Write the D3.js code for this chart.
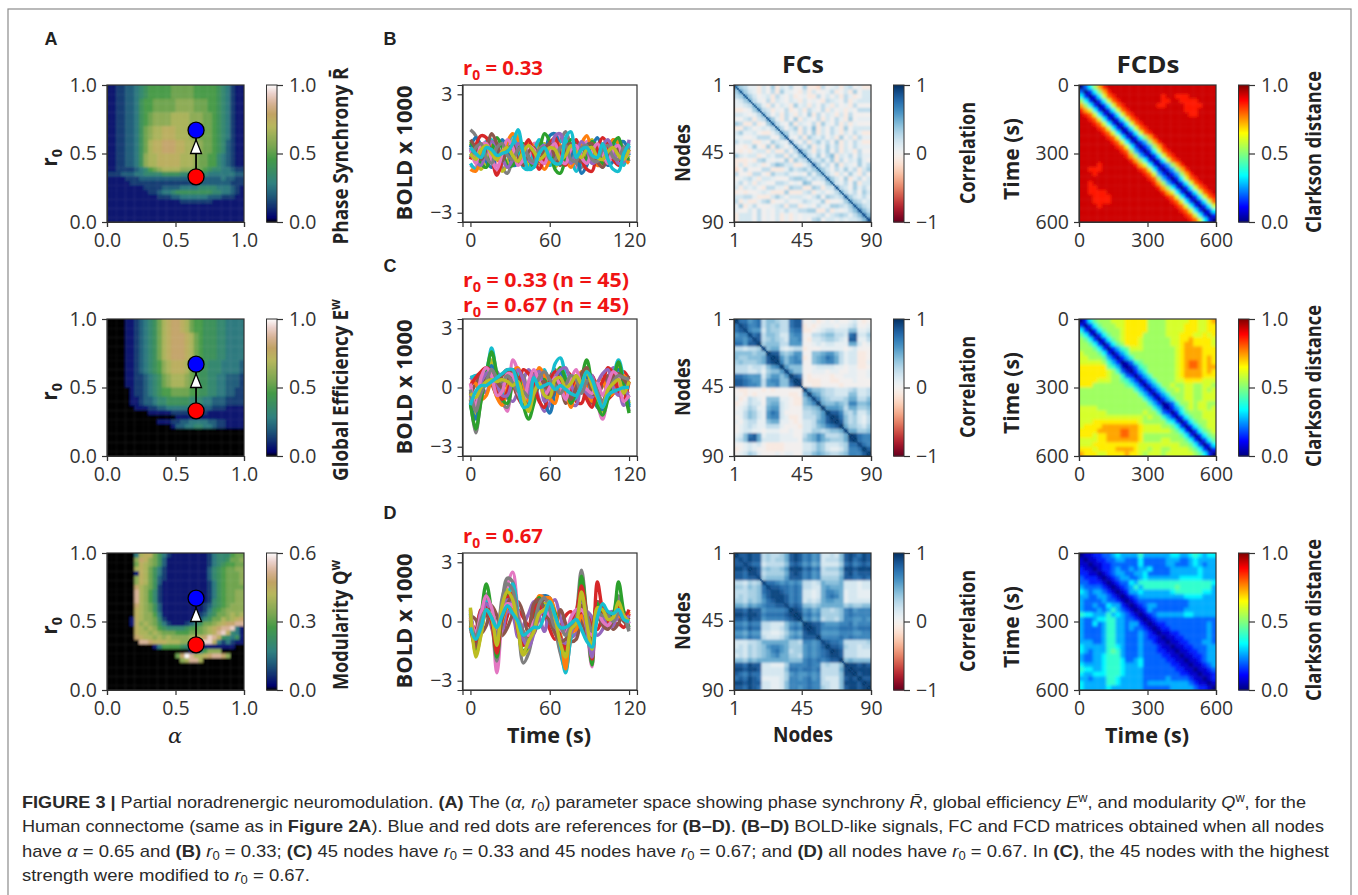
<!DOCTYPE html>
<html>
<head>
<meta charset="utf-8">
<script src="https://cdn.jsdelivr.net/npm/d3@7"></script>
<style>
  body { margin: 0; background: #fff; }
  svg { display: block; }
  text { font-family: "Open Sans", sans-serif; fill: #222; }
  .tick text { font-size: 19.5px; fill: #333; }
  .tick line, .domain { stroke: #333; stroke-width: 1.2; }
</style>
</head>
<body>
<div id="wrapper"></div>
<script>
// ---- tick labels ----
const unitTicks = [0, 0.5, 1];
const modularityTicks = [0, 0.3, 0.6];
const boldTimeTicks = [0, 60, 120];
const boldValueTicks = [-3, 0, 3];
const nodeTicks = [1, 45, 90];
const corrTicks = [-1, 0, 1];
const fcdTicks = [0, 300, 600];

// reference dots of panel A
const dotAlpha = 0.65;
const dotLow = 0.33;
const dotHigh = 0.67;

// ---- panel A, 30 x 30 cells, read by eye, top row is r0 = 1
// hex digit = fraction of the colour bar, "." = black (no value)
const synchrony = [
  "112233456777778888877777654211",
  "112233456777778888877777654211",
  "112233456777778888877777654211",
  "112233467788888999988877654211",
  "112233467788888999988877654211",
  "112233467788888999988877654211",
  "11223346789999aaaa999887654211",
  "11223346789999aaaa999887654211",
  "11223346789999aaaa999887654211",
  "1122334689aabbbaaa998887654211",
  "1122334689aabbbaaa998887654211",
  "1122334689aabbbaaa998887654211",
  "112233468abbcccbbaa99887653211",
  "112233468abbcccbbaa99887653211",
  "112233468abbcccbbaa99887653211",
  "112233469aabbbbbaaa98877543211",
  "112233469aabbbbbaaa98877543211",
  "112233469aabbbbbaaa98877543211",
  "112222345789aaaa99988765544322",
  "222333445555666655555544444433",
  "111122233333333333333333343322",
  "111112222222222222223333333222",
  "111111112222333344445555444321",
  "111111111223445666666665544321",
  "111111111112223344444433322211",
  "111111111111111122222221111111",
  "111111111111111111111111111111",
  "111111111111111111111111111111",
  "111111111111111111111111111111",
  "111111111111111111111111111111"
];
const efficiency = [
  "....11234568abccba877666554444",
  "....11234568abccba877666554444",
  "....11234568abccba877666554444",
  "....11234568abcccba87666554444",
  "....11234568abcccba87666554444",
  "....11234568abcccba87666554444",
  "....11234568abcccba87666554444",
  "....11234568abcccba87666554444",
  "....11234568abcccba87666554444",
  "....112345679abbba876655544443",
  "....112345679abbba876655544443",
  "....112345679abbba876655544443",
  "....1122345689aaa9876655443332",
  "....1122345689aaa9876655443332",
  "....1122345689aaa9876655443332",
  ".....1223456778888776655443322",
  ".....1223456778888776655443322",
  ".....1123345566666555443332222",
  ".....1123345566666555443332222",
  "......111223344444443332221111",
  ".........111112222222211111111",
  "...............111111111111111",
  "...........1112233444433221111",
  "..............1334455443221111",
  "..............................",
  "..............................",
  "..............................",
  "..............................",
  "..............................",
  ".............................."
];
const modularity = [
  "......4abb86421111111124555788",
  "......9cb986311111111124556889",
  "......8ba986311111111124567788",
  "......aba864211111111135678899",
  "......1ba864211111111135678889",
  "......9ba863211111111135678889",
  "......9ba863111111111124678889",
  "......ca9862111111111124678888",
  "......da9752111111111124678899",
  "......da9752111111111124678899",
  "......da9752111111111125678899",
  "......ca9863111111111235678999",
  "......ba9863111111111246789999",
  "......ba9974111111112356889a9a",
  ".....1ba99852111111235688a9abc",
  ".....1b9a986421112356889abccdd",
  "......ba9a976555567789abcdde41",
  "......baa9a98887778889abdeb541",
  "......cbaa9a9a9999aabcedb65461",
  ".......ddcbbbaaa9999aeeb424211",
  "..........147777652111111111..",
  "..................1147999.....",
  "...............8cfdaabcddc9...",
  "................9adda.........",
  "..............................",
  "..............................",
  "..............................",
  "..............................",
  "..............................",
  ".............................."
];

// ---- FC matrices, upper triangle only, each row starts on the diagonal
// hex digit: 3 = correlation 0, f = 1, 0 = -0.25
const fcLow = [
  "a7644253725463372216345256342",
  "a754253627443252533462352735",
  "a75345264352342263535264235",
  "9643625435425343265436245",
  "974263542745253642534263",
  "a6524362352643625342436",
  "963526425372635425263",
  "a74263725436253642734",
  "a6437254362743625243",
  "963572648253642735",
  "9745263725364253642",
  "a43627546352735264",
  "a5362574637253642",
  "964725374625364",
  "b75264736254263",
  "a6473682546364",
  "96574726354743",
  "b7463725437462",
  "9753647462573",
  "96425374263",
  "a7537246352",
  "95463725",
  "a6537464",
  "9646375",
  "b75464",
  "a7645",
  "b865",
  "c86",
  "c8",
  "d"
];
const fcMixed = [
  "fccabc688766cdd334234343345323",
  "edbbc687866cdd232344434456334",
  "ebaa587766bcc223456655588445",
  "ecd688755abb3366788665cd557",
  "ed678765aab3255677654dd446",
  "f788866aaa334545544499534",
  "e89954566233344444345333",
  "fdd878aa33889aa86455223",
  "fea8aba2389acb96455223",
  "fb8abb3389abb96455224",
  "fa888334555544344223",
  "ea88334443443344334",
  "fdc323333233444334",
  "fe322233223334333",
  "f332233332333333",
  "fa8876655567556",
  "fa976655588556",
  "eb87666799668",
  "f988987bb889",
  "faaa9699778",
  "fddb768557",
  "fec867546",
  "fd867546",
  "f977657",
  "e99778",
  "fecbb",
  "fcbb",
  "ecb",
  "fd",
  "f"
];
const fcHigh = [
  "fddedd676679dedbcab55658dedced",
  "ededd676779dedbcab56668decded",
  "edcc566668cdcab9a55557cdbcdc",
  "fed78778aeeecdbc67779eedeee",
  "ed677779dedbcab66668decddd",
  "e78888adddbcab77779ddccdc",
  "eccbababa665698889555455",
  "eddccbcb66559a999555455",
  "eedcbcb55459bba9455444",
  "eedbcb55459bcb9455444",
  "edbcb56569aa99455555",
  "ecdc887899999787788",
  "fedab9a77678bcabbb",
  "febcab77778bcbbbb",
  "fab9a67768bbaaba",
  "feddbaaabbcabbb",
  "fedbbbbcccbccc",
  "edaaaabbbaabb",
  "fbbbbcbcbbbb",
  "edccb666667",
  "fddc766566",
  "fed666555",
  "ed666555",
  "f898888",
  "feeded",
  "feeee",
  "fdee",
  "fdd",
  "fe",
  "f"
];

// ---- FCD matrices, upper triangle, hex digit = Clarkson distance * 15
// a short row keeps its last digit up to the right edge
const fcdLow = [
  "0358bde",
  "0258bde",
  "0259cdeeeeeeeeeedeedddeeeeee",
  "0259cdeeeeeeeeeddeeddddeeee",
  "0259cdeeeeeeeddeeeeddddeee",
  "0259cdeeeeeeeeeeeedddeeee",
  "0259cdeeeeeeeeeeeeddeeee",
  "0259cde",
  "0259cde",
  "0259cde",
  "0259cde",
  "0258bde",
  "0248bde",
  "0248bde",
  "0259cde",
  "0259cde",
  "0259cde",
  "0248bde",
  "0248bde",
  "0248bde",
  "0259cde",
  "0259cde",
  "0259cde",
  "0259cde",
  "0259cd",
  "0259c",
  "0259",
  "025",
  "02",
  "0"
];
const fcdMixed = [
  "02578889 99aaaaa888899999aa99ab".replace(" ", ""),
  "025788899aaaaa88889999aaa99aa",
  "02578889aaaaa88889999aaa99aa",
  "0257889aaaa88888999aaa99a9a",
  "025789aaa988888899aabaaaa9",
  "02578aaa988888899abbaaaa9",
  "0246799988888889abbbbaaa",
  "024688888888889abbbbaaa",
  "02468888888889abbbbaba",
  "0136788888889abccbaba",
  "013678888889abccbabb",
  "02468888889abbbbaba",
  "0246888889abbbbaaa",
  "0246888899aaaa999",
  "0246889889988998",
  "024688989988989",
  "02468889988999",
  "0246889988999",
  "013688989988",
  "02468989989",
  "0257888999",
  "025788999",
  "02578899",
  "0257899",
  "025789",
  "02578",
  "0257",
  "025",
  "02",
  "0"
];
const fcdHigh = [
  "011223345444464444445544565455",
  "01122334433353333344433454444",
  "0112233333353333344333454344",
  "012234334344533334444445444",
  "01234433445333334444445444",
  "0123443345444444455555444",
  "012335466666666666666665",
  "01234646666666766666664",
  "0124454444445666666554",
  "012344444444445555444",
  "01233333333333444444",
  "0123443333333444444",
  "012433333334444444",
  "01234444445544444",
  "0123333333333333",
  "012233333333343",
  "01223333333343",
  "0112233333343",
  "011223333343",
  "01122333443",
  "0112233344",
  "011223344",
  "01122344",
  "0112344",
  "011234",
  "01123",
  "0112",
  "012",
  "01",
  "0"
];

// ---- BOLD traces, x 1000, one value every 4 s
const boldTimes = [0,4,8,12,16,20,24,28,32,36,40,44,48,52,56,60,64,68,72,76,80,84,88,92,96,100,104,108,112,116,120];

const boldLow = [
  [-.6,-.7,.3,.6,.2,-.6,-.5,.4,.7,0,-.6,-.3,.5,.4,-.4,-.6,.3,.9,.2,-.4,-.7,.2,.6,.1,-.5,-.3,.5,.6,-.2,-.5,.2],
  [1.2,.9,-.1,-.5,-.2,.3,-.7,-1,-.2,.7,.3,-.4,-.2,.5,.3,-.3,.2,.6,1.1,.3,-.5,-.7,-.2,.5,.4,-.4,-.5,.2,.7,.2,-.4],
  [.5,-.2,-.8,-.3,.4,.1,-.9,-.5,.6,.9,.1,-.6,-.4,.3,.5,-.1,-.7,-.2,.5,.4,-.3,-.5,.3,.7,0,-.6,-.2,.6,.4,-.4,-.1],
  [-.5,-.8,-.2,.6,.7,-.2,-.5,.5,.9,.2,-.7,-.8,.1,.7,.2,-.6,-.3,.6,.7,-.2,-.9,-.4,.4,.6,-.2,-.7,0,.7,.2,-.6,.4],
  [.3,.8,.4,-.4,-.7,0,.7,.2,-.6,-.5,.3,.6,.1,-.5,-.2,.9,1,.2,-.5,-.1,.6,-1,-.6,.3,.8,.1,-.6,-.4,.5,.6,-.1],
  [-.8,-.9,-.2,.5,.4,-.3,-.4,.6,1,.7,-.1,.6,.3,-.4,-.8,-.3,.6,.4,-.3,-.7,-.1,.5,.9,.1,-.6,-.5,.2,.7,.5,-.2,-.5],
  [.6,.2,-.5,-.7,.1,.8,.3,-.6,-.6,.2,.5,-.2,-.7,.1,1,.6,-.8,-1,-.2,.7,.4,-.4,-.2,.6,.3,-.5,-.3,.5,.8,-.1,-.3],
  [-.3,.4,.9,.8,-.2,-1.1,-.4,.3,0,-.5,.2,.7,-.1,-.8,-.2,.5,.8,-.1,-.6,.3,.7,-.3,-.8,-.9,.2,.8,.4,-.3,-.6,.1,.5],
  [.2,-.4,-.6,.1,.6,.4,-.2,-.7,-.3,.5,.3,-.3,-.5,.2,.4,-.2,.9,1,.1,-.5,0,.6,.2,-.5,-.3,.4,.7,.1,-.5,-.4,.7],
  [.7,.3,-.3,.2,1,.5,-.4,.2,.4,-.3,-.6,.1,.3,-.4,.2,.5,-.2,-.6,.3,.5,-.2,-.4,.4,.5,-.4,-.7,-.2,.3,.2,-.3,.2],
  [.3,-.5,.4,.5,-.3,-.8,0,.7,.3,-.6,-.3,.4,.2,-.3,-.5,.2,.5,-.3,-.5,.2,.4,-.2,-.5,.1,.5,0,-.5,.2,.4,-.3,.1],
  [-.2,.3,.5,-.2,-.5,.3,.5,-.1,-.3,.2,.4,-.2,-.4,.2,.3,-.3,-.3,.3,.4,-.3,-.4,.3,.4,-.3,-.4,.2,.4,-.2,-.3,.3,.2],
  [0,-.3,.2,.4,0,-.3,.1,.3,-.1,-.4,.1,.4,.1,-.3,-.1,.3,.2,-.3,-.1,.4,.1,-.2,.2,.3,-.2,-.3,.1,.3,-.1,-.3,.2],
  [.3,0,-.2,.3,.2,-.1,0,.1,.5,1.2,0,-.8,-.7,0,.3,-.2,-.5,-.5,.8,1.1,-.2,.2,.3,-.1,-.2,.5,-.3,-.8,-.9,0,.5]
];
const boldMixed = [
  [-.7,-1.1,.5,.3,.5,-.3,-.2,.8,.2,-.5,-.9,-.4,.6,.9,.2,-.6,-.3,.3,.8,.6,-.7,-.8,.1,.6,-.1,-.9,-.6,-.3,.2,.8,.4],
  [.4,.6,.2,-.3,.6,.8,.1,-.5,-.7,-.2,.4,.9,.4,-.6,-1.2,-.8,.4,.7,-.2,-.8,-.9,.3,.7,.6,-.7,-.8,.5,1,.2,-.9,-.6],
  [-.4,.2,.6,.6,.2,-.4,.6,.9,.7,-.5,-.6,.2,.7,.6,-.2,.5,.9,.3,-.8,-.5,.3,.6,-.2,-.8,-.4,.1,.6,.4,-.3,.2,.6],
  [-.5,-.8,.3,.8,.7,.1,-.6,-1.2,1.4,.8,-.3,-1,-.5,.2,-.2,.1,.7,.5,-.3,-.2,.4,-.2,.7,.2,-.8,-1.6,-.4,.5,.4,-.3,-.2],
  [-.6,-2.3,-.6,.6,1.2,.2,-.8,-1,.3,.7,.6,-.7,-.3,.7,.3,-.4,.2,.3,.2,-.5,-.3,.6,.8,-.3,-.2,-1,.1,.8,1,.1,-1.2],
  [-.3,-1.5,-.1,.4,1.4,.2,.4,.1,.3,.2,-.8,-1.2,-.2,.3,.4,-.1,.6,1,.5,-.2,.2,.3,.9,0,-.5,-1.2,-.3,.4,1,.3,-.8],
  [.5,.6,.7,.9,2,.6,-.3,-.3,.8,.7,.1,-1.1,-.2,.5,.9,.1,1.2,1.5,.5,-.7,-.5,.3,.6,-.4,-.6,-1.1,.2,.6,1.4,.4,-.9],
  [-.9,-1.6,-.3,.6,1.1,.4,-.4,-.5,.4,.5,-.5,-1,-.7,.9,-.6,-1.3,-.2,.8,.3,-.3,0,.5,.5,-.1,-1,-1.1,-.2,.6,.9,.2,-1],
  [.3,.2,-.6,-.4,.3,-.5,-.9,0,.8,1,.2,-.7,.1,1,.6,-.5,-.8,.1,-.2,-1,.3,.8,-.1,-.7,.3,.4,-.4,-.3,.3,.6,.2],
  [-.8,-2.1,-.7,.7,1.8,.7,-.6,-.8,.2,.5,-.9,-1.6,-.8,.2,.4,-.4,.3,1,.4,-.8,-.2,.5,1.4,.1,-.9,-1.4,-.6,.3,1.3,0,-1.3],
  [.1,.5,.8,1,.8,.1,-.6,-.2,.5,.2,.9,.7,.2,-.7,-1,.3,.8,.2,-.5,-.1,.6,.2,-.6,-1,-.1,.3,1,.7,-.2,-.6,.3],
  [-.4,-.9,.2,.7,.9,.2,-.4,-.4,.4,.9,.4,-.3,.6,.8,-.7,-.4,.5,.9,1,.2,-.4,.1,-.3,-.5,.2,.7,.9,0,-.4,-.1,-.5],
  [-.2,-.7,-.2,.4,.7,.3,0,.4,.9,.4,-.6,-.9,-.4,.1,.3,-.5,-.1,.4,.1,-.6,0,.7,1,-.3,-.4,-.7,.1,.5,.7,.4,.1],
  [.2,-1,.5,1,.6,-.4,-.2,.7,.6,-.3,-.7,.3,.9,.3,-.4,0,.5,.1,-.6,.4,.9,.1,-.1,-.3,.2,-.4,.2,.8,.5,-.7,-.4],
  [-.1,-1.2,-.3,.3,.9,.5,.3,.6,.2,-.2,-.2,-.5,-.3,.5,.8,.4,.1,-.3,.1,.6,.4,-.3,.3,.4,-.2,-.7,-.2,.3,.6,.5,.4],
  [-.3,-.5,0,.3,.4,.3,.4,.3,.1,.3,-.5,-1.2,-.3,.2,-.4,-.5,.4,.5,0,.2,.6,.2,.8,.1,-.5,-1,-.1,.2,.4,-.3,.3],
  [-.9,-.2,.1,.1,.3,.5,.7,.9,.9,0,-1,-.9,.5,0,.1,.2,-.1,.1,-.1,-.3,-.4,.1,.8,.4,-.4,-1,-.4,-.2,-.1,0,0]
];
const boldHigh = [
  [.1,-.4,.6,.4,-.2,-.4,-.5,.3,.9,.6,.2,-.2,.9,1.2,.4,-.4,-.9,-.3,.3,.5,-.4,.4,.5,-.2,-.4,.2,.4,-.2,-.1,-.3,.4],
  [-.5,-.6,.5,.8,-.3,-1.1,-.6,.5,.3,-.8,-.2,.4,1,.3,-.5,.7,1.1,.2,-.5,-.8,-.6,-.2,.5,.2,-.7,-.4,.4,.5,.1,.5,-.1],
  [.3,.1,-.6,-.2,.8,.3,-.7,-.3,.4,1,.4,-.6,-.6,.5,1.2,.2,-.2,.6,-.1,-1,-.9,.1,-.7,-.4,1,.8,.3,-.4,-.1,.4,.1],
  [.6,-1.2,-.4,1.2,.2,-2.6,.2,1.8,2.5,.4,-1.6,-1.4,-.2,.6,.9,1.1,0,-1.5,-2.2,-.3,.2,1.6,-.2,-2.3,.9,.3,-.1,.2,1,.1,.3],
  [.4,-1.5,-.2,1.4,.1,-2,1,2.2,2,-.1,-2.1,-1.6,-.3,1.2,1.3,1,-.3,-1.6,-2.4,-.8,.3,2.6,.3,-1.8,.7,.5,-.2,.3,1.3,.3,-.5],
  [.7,-1.7,-.6,1,.1,-1.5,.9,1.6,1.3,-.3,-1.7,-1.3,-.4,.5,.9,1,.3,-1.1,-1.9,-.5,.1,1.2,-.3,-1.5,.8,.5,.2,.3,.9,.2,0],
  [.4,-1,.3,1,.6,-.5,.4,1.2,1.9,.4,-1.2,-.9,.2,.7,.8,.6,.1,-1.2,-2.6,-.8,0,1.4,.2,-1.2,.2,.1,.1,.4,.8,.3,0],
  [.3,-.7,0,.9,.5,-.9,-.1,.9,1,-.2,-1.1,-1,-.2,.8,1.3,1.2,.3,-.7,-1.2,-.3,.3,1,.2,-1.3,.5,.3,.2,.4,.7,.3,.2],
  [-.2,-1.1,-.3,.6,.3,-1.2,0,.7,.6,-.2,-.5,-.9,.3,1.3,1.2,1.2,.5,-.6,-2.4,-.6,-.4,.3,-.3,-.7,.3,.1,-.3,0,.3,.1,.5],
  [.1,-1.4,.3,1.9,.5,-1.8,.3,1.4,1.2,0,-1.5,-1.2,.1,1.2,.7,.9,.4,-.9,-1.5,-.5,0,2.3,.2,-2.2,.9,.5,0,.3,2,.5,-.3],
  [.2,-1,-.2,.7,0,-1.6,.4,1.2,1.4,-.5,-1.2,-.8,.6,.9,.2,.3,.2,-.8,-1.4,0,.5,1.8,.3,-1.9,2,.6,0,.1,.8,.2,.6],
  [.5,-.9,-.1,.9,.4,-.9,.8,1.1,1,.1,-.9,-1.3,-.6,.3,.5,.2,-.3,-.9,-1.1,-.6,.2,.9,-.4,-1.8,.1,.2,-.3,-.2,.5,.1,.3],
  [-.3,-1.3,-.5,.5,.6,-1,.2,.9,1.3,.1,-.7,-.6,.9,1.1,.6,0,-.6,-1,-.9,-.3,.1,.8,0,-1.1,.3,-.2,-.4,.1,.6,0,-.2],
  [.2,-.6,.4,1.3,.7,-.4,.5,.9,.8,.4,-.6,-.7,0,.4,.6,.3,0,-.4,-.6,.2,.6,.6,.2,-.7,.5,0,-.2,.2,.6,.3,-.1],
  [0,-.8,.1,.6,.2,-.8,1.2,1.9,1.6,.2,-.5,-1,-.3,.9,1.2,.6,-.3,-.3,-.7,-.2,.1,1.3,.4,-.5,.4,.3,.3,0,.4,.2,-.4],
  [.6,-1.8,-.7,.6,.2,-1.2,.8,1.5,1.1,-.4,-1.6,-1,-.5,.4,.6,1,.2,-1.1,-1.8,-.4,-.1,1.5,-.1,-1.4,.7,.6,.1,.2,1,.3,0],
  [-.3,-.9,-.3,.6,.2,-.3,.3,.8,.4,0,-.7,-.5,-.3,-.3,.3,1,.3,-.3,-.3,-.1,.1,-.4,-1,-1.3,.2,.9,.5,.4,.6,.1,0]
];

// ---- layout ----
const rowTops = [85, 319, 553];
const side = 137;

const svg = d3.select("#wrapper").append("svg").attr("width", 1358).attr("height", 895);
const defs = svg.append("defs");
[["softA", 1.2], ["softFC", 0.9], ["softFCD", 1.5]].forEach(f => {
  defs.append("filter").attr("id", f[0]).attr("x", "-5%").attr("y", "-5%").attr("width", "110%").attr("height", "110%")
    .append("feGaussianBlur").attr("stdDeviation", f[1]);
});

svg.append("rect").attr("x", 8).attr("y", 9).attr("width", 1343).attr("height", 900)
  .attr("fill", "none").attr("stroke", "#8c8c8c").attr("stroke-width", 1.2);

// ---- colours ----
const earth = d3.scaleLinear()
  .domain([0, .03, .11, .165, .208, .282, .459, .549, .698, .788, .867, .941, 1])
  .range(["#000000", "#00006e", "#133071", "#1c4d76", "#23627c", "#308080", "#459a48", "#78a652", "#b7b75e", "#c1a365", "#d7b296", "#ecd3ce", "#fdfbfb"]);
const jet = d3.scaleLinear()
  .domain([0, .11, .34, .65, .89, 1])
  .range(["#00007f", "#0000ff", "#00ffff", "#ffff00", "#ff0000", "#7f0000"]);
const rdbu = d3.scaleSequential(d3.interpolateRdBu).domain([-1, 1]);

// ---- helpers ----
function label(parent, x, y, parts, o) {
  o = o || {};
  let size = o.size || 21;
  let t = parent.append("text")
    .attr("text-anchor", o.anchor || "middle")
    .attr("font-size", size)
    .attr("font-weight", o.weight || 700);
  if (o.rotate) t.attr("transform", `translate(${x},${y}) rotate(-90)`);
  else t.attr("x", x).attr("y", y);
  if (o.len) t.attr("textLength", o.len).attr("lengthAdjust", "spacingAndGlyphs");
  if (o.fill) t.style("fill", o.fill);
  let back = 0;
  (Array.isArray(parts) ? parts : [parts]).forEach(p => {
    if (typeof p === "string") {
      let s = t.append("tspan").text(p);
      if (back) s.attr("dy", back);
      back = 0;
      return;
    }
    let shift = p.sub ? 0.25 * size : -0.4 * size;
    t.append("tspan").attr("dy", shift).attr("font-size", size * 0.68).text(p.t);
    back = -shift;
  });
  return t;
}

function decodeFull(rows) {
  let cells = [];
  rows.forEach((row, i) => row.split("").forEach((c, j) => {
    cells.push({ i, j, c });
  }));
  return cells;
}
function decodeUpper(rows) {
  let cells = [];
  rows.forEach((row, i) => {
    for (let j = i; j < rows.length; j++) {
      let c = row[j - i] || row[row.length - 1];
      cells.push({ i, j, c });
      if (j !== i) cells.push({ i: j, j: i, c });
    }
  });
  return cells;
}

function heatPanel(o) {
  let g = svg.append("g").attr("transform", `translate(${o.left},${o.top})`);
  let clipId = "clip" + o.left + "_" + o.top;
  defs.append("clipPath").attr("id", clipId).append("rect").attr("width", side).attr("height", side);
  let n = o.rows.length;
  let band = d3.scaleBand().domain(d3.range(n)).range([0, side]);
  let inner = g.append("g").attr("clip-path", `url(#${clipId})`).append("g").attr("filter", `url(#${o.soft})`);
  // edge cells reach past the clip so the blur does not fade at the frame
  inner.selectAll("rect").data(o.cells).enter().append("rect")
    .attr("x", d => band(d.j) - (d.j === 0 ? 5 : 0))
    .attr("y", d => band(d.i) - (d.i === 0 ? 5 : 0))
    .attr("width", d => band.bandwidth() + 0.4 + (d.j === 0 || d.j === n - 1 ? 5 : 0))
    .attr("height", d => band.bandwidth() + 0.4 + (d.i === 0 || d.i === n - 1 ? 5 : 0))
    .attr("fill", d => d.c === "." ? "#000" : o.color(o.value(d.c)));
  if (o.diagonal) {
    let b90 = d3.scaleBand().domain(d3.range(90)).range([0, side]);
    g.append("g").selectAll("rect").data(d3.range(90)).enter().append("rect")
      .attr("x", d => b90(d)).attr("y", d => b90(d))
      .attr("width", b90.bandwidth() + 0.3).attr("height", b90.bandwidth() + 0.3)
      .attr("fill", rdbu(o.diagonal)).attr("opacity", 0.75);
  }
  return g;
}

function axesFor(g, x, y, xTicks, yTicks, fmtX, fmtY) {
  g.append("g").attr("transform", `translate(0,${side})`)
    .call(d3.axisBottom(x).tickValues(xTicks).tickSize(5).tickPadding(6).tickFormat(fmtX));
  g.append("g")
    .call(d3.axisLeft(y).tickValues(yTicks).tickSize(5).tickPadding(5).tickFormat(fmtY));
  g.append("rect").attr("width", x.range()[1] - x.range()[0]).attr("x", x.range()[0])
    .attr("height", side).attr("fill", "none").attr("stroke", "#333").attr("stroke-width", 1.2);
}

function colorBar(o) {
  let g = svg.append("g").attr("transform", `translate(${o.left},${o.top})`);
  let y = d3.scaleLinear().domain(o.domain).range([side, 0]);
  let steps = d3.range(0, 1, 1 / side);
  g.selectAll("rect").data(steps).enter().append("rect")
    .attr("x", 0).attr("width", 10.5)
    .attr("y", d => y(o.domain[0] + (d + 1 / side) * (o.domain[1] - o.domain[0])))
    .attr("height", 1.6)
    .attr("fill", d => o.color(d));
  g.append("rect").attr("width", 10.5).attr("height", side).attr("fill", "none").attr("stroke", "#333").attr("stroke-width", 1);
  g.append("g").attr("transform", "translate(10.5,0)")
    .call(d3.axisRight(y).tickValues(o.ticks).tickSize(6).tickPadding(6).tickFormat(o.format))
    .select(".domain").remove();
}

const minus = s => s.replace("-", "\u2212");
const fmtUnit = d3.format(".1f");
const fmtInt = d => minus(String(d));

// ---- panel A ----
const paramMaps = [
  { rows: synchrony, ticks: unitTicks, max: 1, title: ["Phase Synchrony R\u0304"], cy: 156, len: 177 },
  { rows: efficiency, ticks: unitTicks, max: 1, title: ["Global Efficiency E", { t: "w" }], cy: 390, len: 182 },
  { rows: modularity, ticks: modularityTicks, max: 0.6, title: ["Modularity Q", { t: "w" }], cy: 625, len: 130 }
];
paramMaps.forEach((m, k) => {
  let g = heatPanel({ left: 107, top: rowTops[k], rows: m.rows, cells: decodeFull(m.rows), color: earth, value: c => parseInt(c, 16) / 15, soft: "softA" });
  let x = d3.scaleLinear().domain([0, 1]).range([0, side]);
  let y = d3.scaleLinear().domain([0, 1]).range([side, 0]);
  axesFor(g, x, y, unitTicks, unitTicks, fmtUnit, fmtUnit);

  g.append("line").attr("x1", x(dotAlpha)).attr("x2", x(dotAlpha)).attr("y1", y(dotLow)).attr("y2", y(dotHigh))
    .attr("stroke", "#000").attr("stroke-width", 1.8);
  g.append("path")
    .attr("d", d3.line().x(d => x(d[0])).y(d => y(d[1]))([[dotAlpha - .04, .5], [dotAlpha + .04, .5], [dotAlpha, .6]]) + "Z")
    .attr("fill", "#fff").attr("stroke", "#000").attr("stroke-width", 1.3);
  g.append("circle").attr("cx", x(dotAlpha)).attr("cy", y(dotLow)).attr("r", 8).attr("fill", "#f00").attr("stroke", "#000").attr("stroke-width", 1.3);
  g.append("circle").attr("cx", x(dotAlpha)).attr("cy", y(dotHigh)).attr("r", 8).attr("fill", "#00f").attr("stroke", "#000").attr("stroke-width", 1.3);

  colorBar({ left: 266.5, top: rowTops[k], domain: [0, m.max], ticks: m.ticks, format: fmtUnit, color: earth });
  label(svg, 57, rowTops[k] + 73, ["r", { t: "0", sub: true }], { rotate: true });
  label(svg, 348, m.cy, m.title, { rotate: true, len: m.len });
});
svg.append("text").attr("x", 175).attr("y", 743).attr("text-anchor", "middle")
  .style("font-family", "'DejaVu Serif', serif").style("font-style", "italic").attr("font-size", 21).text("\u03b1");

// ---- BOLD panels ----
const boldPanels = [boldLow, boldMixed, boldHigh];
boldPanels.forEach((series, k) => {
  let g = svg.append("g").attr("transform", `translate(462.5,${rowTops[k]})`);
  let x = d3.scaleLinear().domain([-6, 126]).range([0, 174.5]);
  let y = d3.scaleLinear().domain([-3.47, 3.47]).range([side, 0]);
  let line = d3.line().x((d, i) => x(boldTimes[i])).y(d => y(d)).curve(d3.curveCatmullRom.alpha(0.5));
  g.selectAll("path.trace").data(series).enter().append("path").attr("class", "trace")
    .attr("d", line).attr("fill", "none").attr("stroke-width", 3.4)
    .attr("stroke", (d, i) => d3.schemeCategory10[(i + 90 - series.length) % 10]);
  axesFor(g, x, y, boldTimeTicks, boldValueTicks, fmtInt, fmtInt);
  label(svg, 412, rowTops[k] + 68, "BOLD x 1000", { rotate: true, len: 135 });
});

const red = "#f01414";
label(svg, 463, 75, ["r", { t: "0", sub: true }, " = 0.33"], { anchor: "start", fill: red, size: 20, len: 80 });
label(svg, 463, 287, ["r", { t: "0", sub: true }, " = 0.33 (n = 45)"], { anchor: "start", fill: red, size: 20, len: 166 });
label(svg, 463, 312, ["r", { t: "0", sub: true }, " = 0.67 (n = 45)"], { anchor: "start", fill: red, size: 20, len: 166 });
label(svg, 463, 543, ["r", { t: "0", sub: true }, " = 0.67"], { anchor: "start", fill: red, size: 20, len: 80 });

// ---- FC panels ----
[fcLow, fcMixed, fcHigh].forEach((rows, k) => {
  let g = heatPanel({ left: 734, top: rowTops[k], rows, cells: decodeUpper(rows), color: rdbu, value: c => (parseInt(c, 16) - 3) / 12, diagonal: 0.9, soft: "softFC" });
  let x = d3.scaleLinear().domain([1, 90]).range([0, side]);
  let y = d3.scaleLinear().domain([1, 90]).range([0, side]);
  axesFor(g, x, y, nodeTicks, nodeTicks, fmtInt, fmtInt);
  colorBar({ left: 893.5, top: rowTops[k], domain: [-1, 1], ticks: corrTicks, format: fmtInt, color: t => rdbu(t * 2 - 1) });
  label(svg, 690, rowTops[k] + 68, "Nodes", { rotate: true, len: 58 });
  label(svg, 975, rowTops[k] + 68, "Correlation", { rotate: true, len: 102 });
});

// ---- FCD panels ----
[fcdLow, fcdMixed, fcdHigh].forEach((rows, k) => {
  let g = heatPanel({ left: 1079, top: rowTops[k], rows, cells: decodeUpper(rows), color: jet, value: c => parseInt(c, 16) / 15, soft: "softFCD" });
  let x = d3.scaleLinear().domain([0, 600]).range([0, side]);
  let y = d3.scaleLinear().domain([0, 600]).range([0, side]);
  axesFor(g, x, y, fcdTicks, fcdTicks, fmtInt, fmtInt);
  colorBar({ left: 1238.5, top: rowTops[k], domain: [0, 1], ticks: unitTicks, format: fmtUnit, color: jet });
  label(svg, 1019, rowTops[k] + 74, "Time (s)", { rotate: true, len: 82 });
  label(svg, 1321, rowTops[k] + 67, "Clarkson distance", { rotate: true, len: 162 });
});

// ---- headings and x labels ----
label(svg, 803, 73, "FCs", { size: 24, len: 42 });
label(svg, 1148, 73, "FCDs", { size: 24, len: 63 });
label(svg, 549, 743, "Time (s)", { len: 84 });
label(svg, 803, 742, "Nodes", { len: 60 });
label(svg, 1147, 743, "Time (s)", { len: 84 });
[["A", 51, 45], ["B", 390, 45], ["C", 390, 272], ["D", 390, 519]].forEach(d => {
  svg.append("text").attr("x", d[1]).attr("y", d[2]).attr("text-anchor", "middle")
    .style("font-family", "'Liberation Sans', sans-serif").style("font-weight", 700).attr("font-size", 18).text(d[0]);
});

// ---- caption ----
const captionLines = [
  { end: 1306, y: 808, parts: [["FIGURE 3 | ", "b"], ["Partial noradrenergic neuromodulation. "], ["(A) ", "b"], ["The ("], ["\u03b1, r", "i"], ["0", "s"], [") parameter space showing phase synchrony "], ["R\u0304", "i"], [", global efficiency "], ["E", "i"], ["w", "u"], [", and modularity "], ["Q", "i"], ["w", "u"], [", for the"]] },
  { end: 1324, y: 832, parts: [["Human connectome (same as in "], ["Figure 2A", "b"], ["). Blue and red dots are references for "], ["(B\u2013D)", "b"], [". "], ["(B\u2013D) ", "b"], ["BOLD-like signals, FC and FCD matrices obtained when all nodes"]] },
  { end: 1329, y: 857, parts: [["have "], ["\u03b1", "i"], [" = 0.65 and "], ["(B) ", "b"], ["r", "i"], ["0", "s"], [" = 0.33; "], ["(C) ", "b"], ["45 nodes have "], ["r", "i"], ["0", "s"], [" = 0.33 and 45 nodes have "], ["r", "i"], ["0", "s"], [" = 0.67; and "], ["(D) ", "b"], ["all nodes have "], ["r", "i"], ["0", "s"], [" = 0.67. In "], ["(C)", "b"], [", the 45 nodes with the highest"]] },
  { end: 310, y: 881, parts: [["strength were modified to "], ["r", "i"], ["0", "s"], [" = 0.67."]] }
];
captionLines.forEach(l => {
  let t = svg.append("text").attr("x", 22).attr("y", l.y).attr("font-size", 17)
    .style("font-family", "'Liberation Sans', sans-serif").style("fill", "#2a2a2a")
    .attr("textLength", l.end - 22).attr("lengthAdjust", "spacingAndGlyphs");
  let back = 0;
  l.parts.forEach(p => {
    let s = t.append("tspan").text(p[0]);
    if (back) { s.attr("dy", back); back = 0; }
    if (p[1] === "b") s.attr("font-weight", 700);
    if (p[1] === "i") s.attr("font-style", "italic");
    if (p[1] === "s") { s.attr("font-size", 12).attr("dy", 3); back = -3; }
    if (p[1] === "u") { s.attr("font-size", 12).attr("dy", -6); back = 6; }
  });
});
</script>
</body>
</html>
